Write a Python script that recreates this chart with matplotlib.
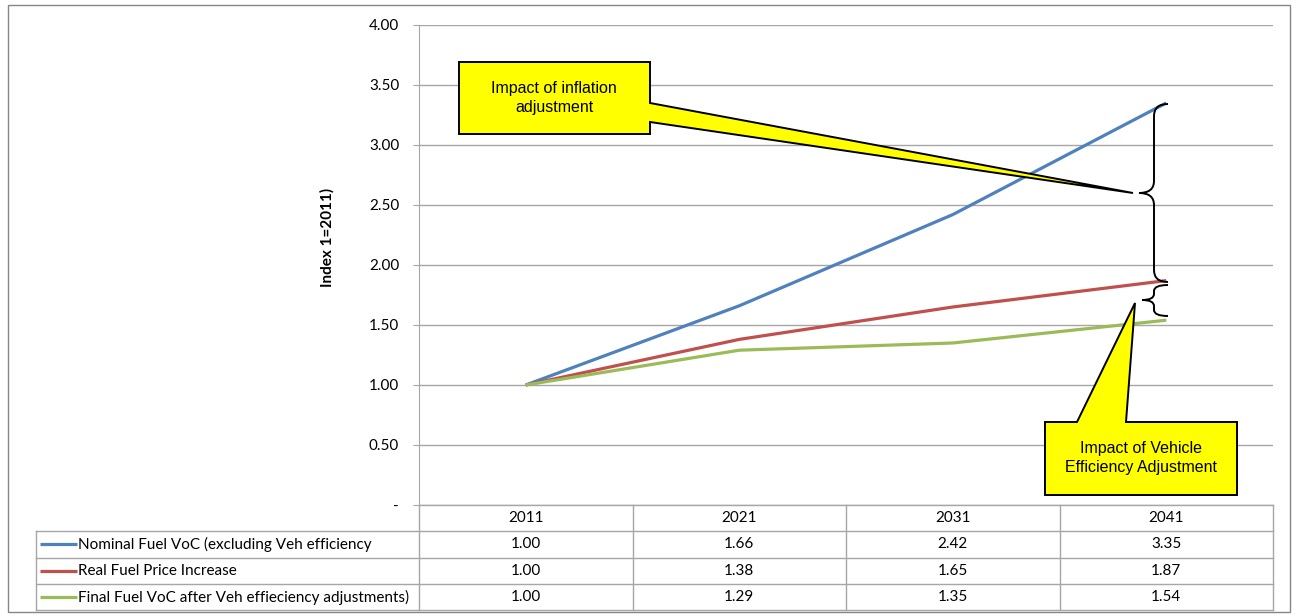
import numpy as np
import matplotlib
matplotlib.use("Agg")
from matplotlib import pyplot as plt
from matplotlib.patches import Polygon, Rectangle, PathPatch
from matplotlib.path import Path

# chart data
years = ["2011", "2021", "2031", "2041"]
nominal = [1.00, 1.66, 2.42, 3.35]
real = [1.00, 1.38, 1.65, 1.87]
final = [1.00, 1.29, 1.35, 1.54]
series_names = ["Nominal Fuel VoC (excluding Veh efficiency",
                "Real Fuel Price Increase",
                "Final Fuel VoC after Veh effieciency adjustments)"]
series_colors = ["#4F81BD", "#C0504D", "#9BBB59"]
yticks = [0, 0.5, 1.0, 1.5, 2.0, 2.5, 3.0, 3.5, 4.0]

W, H = 1297, 616
FS = 11
plt.rcParams['font.family'] = ['Lato', 'DejaVu Sans']
fig = plt.figure(figsize=(W / 100, H / 100), dpi=100)

# plot area in pixels
left, right, top, bottom = 419, 1273, 25, 505
ax = fig.add_axes([left / W, (H - bottom) / H, (right - left) / W, (bottom - top) / H])
x = np.arange(len(years))
for vals, col in zip([nominal, real, final], series_colors):
    ax.plot(x, vals, color=col, lw=2.3, solid_capstyle='butt', zorder=3)
ax.set_xlim(-0.5, len(years) - 0.5)
ax.set_ylim(0, 4)
ax.set_yticks(yticks)
ax.set_yticklabels(["-" if v == 0 else "%.2f" % v for v in yticks], fontsize=FS)
ax.set_xticks([])
ax.grid(axis='y', color='#A6A6A6', lw=1)
for s in ['top', 'right', 'bottom']:
    ax.spines[s].set_visible(False)
ax.spines['left'].set_color('#A6A6A6')
ax.tick_params(axis='y', length=4.3, color='#A6A6A6', pad=10)
ax.set_axisbelow(True)
fig.text(327 / W, 1 - 237 / H, "Index 1=2011)", rotation=90, fontsize=FS,
         fontweight='bold', ha='center', va='center')

# overlay in pixel coordinates for table, callouts and braces
ov = fig.add_axes([0, 0, 1, 1], zorder=5)
ov.set_xlim(0, W)
ov.set_ylim(H, 0)
ov.axis('off')
ov.patch.set_alpha(0)

# outer chart border
ov.add_patch(Rectangle((7.5, 5), 1282, 607, fill=False, ec='#868686', lw=1))

# data table
grid_c = '#A6A6A6'
tab_left = 36
col_w = (right - left) / len(years)
row_h = 26.3
cols = [left + i * col_w for i in range(len(years) + 1)]
ov.plot([left, right], [bottom, bottom], color=grid_c, lw=1)
n_rows = len(series_names) + 1
for r in range(1, n_rows + 1):
    ov.plot([tab_left, right], [bottom + r * row_h] * 2, color=grid_c, lw=1)
for cx in cols:
    ov.plot([cx, cx], [bottom, bottom + n_rows * row_h], color=grid_c, lw=1)
ov.plot([tab_left, tab_left], [bottom + row_h, bottom + n_rows * row_h], color=grid_c, lw=1)
for i, yr in enumerate(years):
    ov.text(left + (i + 0.5) * col_w, bottom + row_h / 2, yr, ha='center', va='center', fontsize=FS)
for r, (name, col, vals) in enumerate(zip(series_names, series_colors, [nominal, real, final])):
    yc = bottom + (r + 1.5) * row_h
    ov.plot([40, 77], [yc, yc], color=col, lw=2.3, solid_capstyle='butt')
    ov.text(78, yc, name, ha='left', va='center', fontsize=FS)
    for i, v in enumerate(vals):
        ov.text(left + (i + 0.5) * col_w, yc, "%.2f" % v, ha='center', va='center', fontsize=FS)

# callouts
call1 = [(459, 62), (650, 62), (650, 103), (1133, 193), (650, 122), (650, 134), (459, 134)]
ov.add_patch(Polygon(call1, closed=True, fc='#FFFF00', ec='black', lw=1.4, zorder=6))
ov.text(554, 98, "Impact of inflation\nadjustment", ha='center', va='center',
        fontsize=11.5, family='Liberation Sans', zorder=7, linespacing=1.27)
call2 = [(1045, 422), (1077, 422), (1135, 303), (1126, 422), (1237, 422), (1237, 495), (1045, 495)]
ov.add_patch(Polygon(call2, closed=True, fc='#FFFF00', ec='black', lw=1.4, zorder=6))
ov.text(1141, 458, "Impact of Vehicle\nEfficiency Adjustment", ha='center', va='center',
        fontsize=11.5, family='Liberation Sans', zorder=7, linespacing=1.27)


def brace(y0, y1, ym, x_end, x_spine, x_tip):
    r = min(12, (ym - y0) / 2.5)
    verts = [(x_end, y0), (x_spine, y0), (x_spine, y0 + r),
             (x_spine, ym - r),
             (x_spine, ym), (x_tip, ym),
             (x_spine, ym), (x_spine, ym + r),
             (x_spine, y1 - r),
             (x_spine, y1), (x_end, y1)]
    codes = [Path.MOVETO, Path.CURVE3, Path.CURVE3,
             Path.LINETO,
             Path.CURVE3, Path.CURVE3,
             Path.CURVE3, Path.CURVE3,
             Path.LINETO,
             Path.CURVE3, Path.CURVE3]
    ov.add_patch(PathPatch(Path(verts, codes), fill=False, ec='black', lw=1.4, zorder=6))


brace(104, 282, 193, 1168, 1154, 1139)
brace(285, 316, 300, 1168, 1154, 1142)

fig.savefig("out.png", dpi=100)
